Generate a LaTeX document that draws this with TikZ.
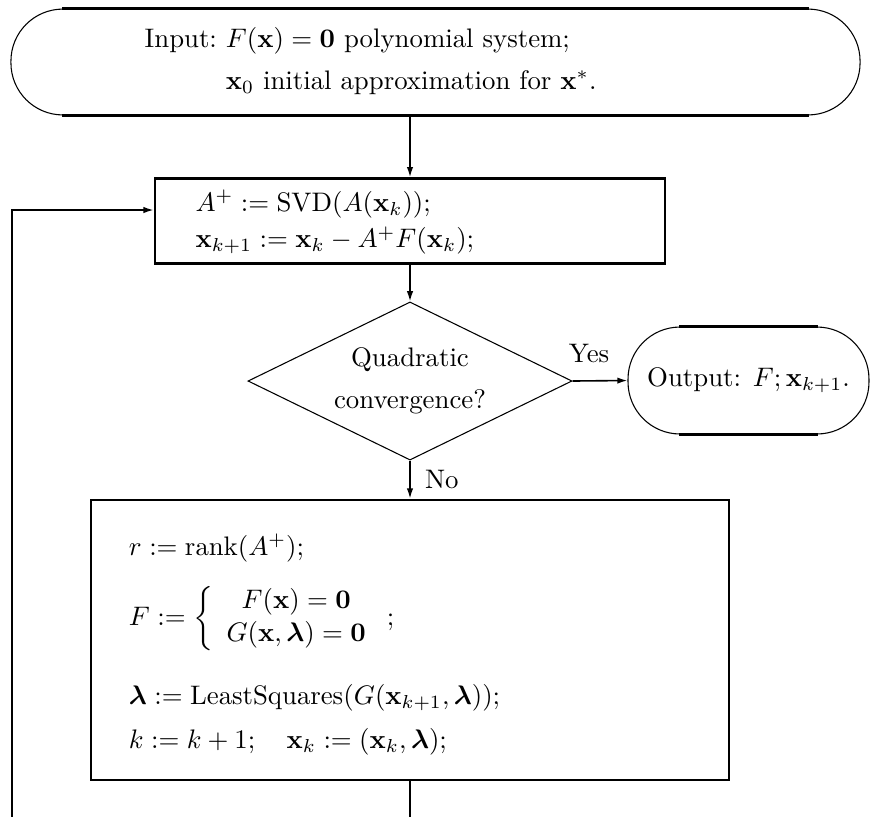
\documentclass[tikz,border=0pt]{standalone}
\usepackage{amsmath}
\usepackage{amssymb}
\usetikzlibrary{arrows.meta,shapes.geometric}

\tikzset{
  stepbox/.style={draw, line width=1pt, rectangle, align=left},
  capsule/.style={draw, line width=0.4pt, rectangle, rounded corners=19.4pt},
  capedge/.style={line width=0.9pt},
  decision/.style={draw, diamond, aspect=2.2, line width=0.4pt, align=center, inner sep=0pt},
  flow/.style={line width=0.6pt, -{Latex[length=3.8pt,width=2.4pt]}},
}

\begin{document}
\begin{tikzpicture}[x=0.3731pt, y=-0.3731pt]
\useasboundingbox (0,0) rectangle (871,816);

% start
\node[capsule, minimum width=316.8pt, minimum height=39.5pt,
      text width=217pt, align=left] (input) at (435.5,62)
  {\begin{tabular}{@{}l@{\ }l@{}}
   Input: & $F(\mathbf{x})=\mathbf{0}$ polynomial system;\\[3.5pt]
          & $\mathbf{x}_0$ initial approximation for $\mathbf{x}^*$.
   \end{tabular}};
\draw[capedge] ([xshift=19.4pt]input.north west) -- ([xshift=-19.4pt]input.north east);
\draw[capedge] ([xshift=19.4pt]input.south west) -- ([xshift=-19.4pt]input.south east);

% Newton step
\node[stepbox, minimum width=190.3pt, minimum height=31.3pt,
      text width=160pt, inner xsep=14.9pt] (svd) at (410,221)
  {\rule{0pt}{9pt}$A^+ := \mathrm{SVD}(A(\mathbf{x}_k));$\\[1.5pt]
   $\mathbf{x}_{k+1} := \mathbf{x}_k - A^+F(\mathbf{x}_k);$};

% test
\node[decision, minimum width=120.9pt, minimum height=59pt] (test) at (410,381)
  {Quadratic\\[3.5pt] convergence?};

% stop
\node[capsule, minimum width=89.9pt, minimum height=39.9pt] (output) at (748.5,380.5)
  {Output: $F;\mathbf{x}_{k+1}$.};
\draw[capedge] ([xshift=19.4pt]output.north west) -- ([xshift=-19.4pt]output.north east);
\draw[capedge] ([xshift=19.4pt]output.south west) -- ([xshift=-19.4pt]output.south east);

% deflation
\node[stepbox, minimum width=238pt, minimum height=104.5pt,
      text width=209.7pt, inner xsep=14.2pt] (deflate) at (410,640)
  {\rule{0pt}{11.5pt}$r := \mathrm{rank}(A^+);$\\[8pt]
   $F := \left\{\begin{array}{c}
          F(\mathbf{x}) = \mathbf{0}\\
          G(\mathbf{x},\boldsymbol{\lambda}) = \mathbf{0}
        \end{array}\right.;$\\[11.5pt]
   $\boldsymbol{\lambda} := \mathrm{LeastSquares}(G(\mathbf{x}_{k+1},\boldsymbol{\lambda}));$\\[4.5pt]
   $k := k+1;\quad \mathbf{x}_k := (\mathbf{x}_k,\boldsymbol{\lambda});$};

% connectors
\coordinate (corner) at (12,840);
\coordinate (reentry) at (12,210);
\draw[flow] (input.south -| svd.north) -- (svd.north);
\draw[flow] (svd) -- (test);
\draw[flow] (test.east) -- node[above=3pt, pos=0.3] {Yes} (output.west);
\draw[flow] (test.south) -- node[right=2pt] {No} (deflate.north);
\draw[flow] (deflate.south) |- (corner) |- (reentry -| svd.west);
\end{tikzpicture}
\end{document}
